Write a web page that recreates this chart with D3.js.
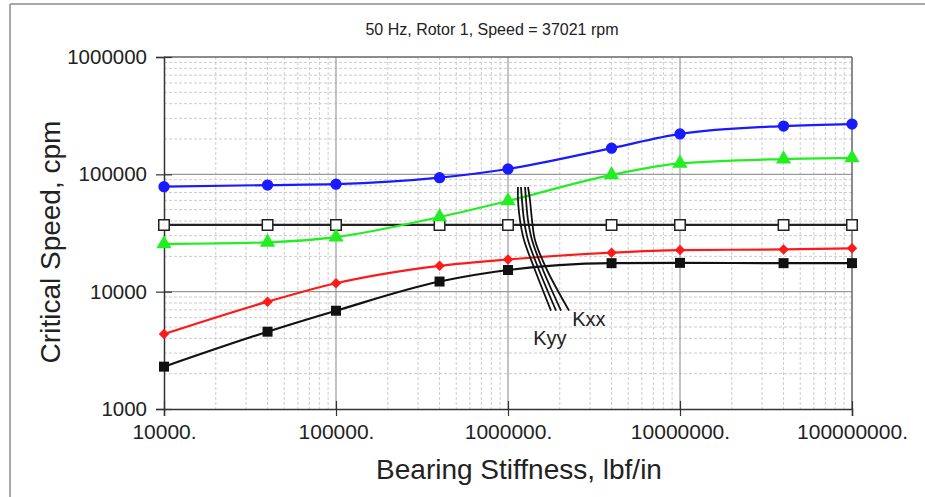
<!DOCTYPE html>
<html>
<head>
<meta charset="utf-8">
<script src="https://cdn.jsdelivr.net/npm/d3@7/dist/d3.min.js"></script>
<style>
  html, body { margin: 0; padding: 0; background: #fff; }
  svg { display: block; font-family: "Liberation Sans", Arial, sans-serif; }
</style>
</head>
<body>
<svg id="chart" width="925" height="497"></svg>
<script>
// ---- Data ----
const title = "50 Hz, Rotor 1, Speed = 37021 rpm";
const xLabel = "Bearing Stiffness, lbf/in";
const yLabel = "Critical Speed, cpm";
const stiffness = [1e4, 4e4, 1e5, 4e5, 1e6, 4e6, 1e7, 4e7, 1e8];
const mode4 = [78500, 81000, 82500, 93600, 111000, 167000, 221000, 258000, 268000]; // blue
const mode3 = [25500, 26300, 29200, 43300, 59300, 99000, 124000, 135000, 138000];  // green
const runSpeed = [37021, 37021, 37021, 37021, 37021, 37021, 37021, 37021, 37021]; // open squares
const mode2 = [4355, 8220, 11800, 16600, 18800, 21500, 22600, 22900, 23400];       // red
const mode1 = [2295, 4560, 6880, 12200, 15300, 17500, 17600, 17500, 17500];        // black
const xTickLabels = ["10000.", "100000.", "1000000.", "10000000.", "100000000."];
const yTickLabels = ["1000", "10000", "100000", "1000000"];
// Kxx / Kyy bearing stiffness loci (stiffness, cpm)
const kCurveY = [78000, 60400, 40800, 27600, 15300, 6900];
const kCurvesX = [
  [1.143e6, 1.143e6, 1.174e6, 1.239e6, 1.435e6, 1.778e6],
  [1.190e6, 1.206e6, 1.239e6, 1.307e6, 1.514e6, 1.902e6],
  [1.256e6, 1.273e6, 1.307e6, 1.379e6, 1.598e6, 2.033e6],
  [1.307e6, 1.342e6, 1.379e6, 1.435e6, 1.686e6, 2.263e6]
];
const kLabels = [
  { text: "Kxx", x: 2.36e6, y: 5100 },
  { text: "Kyy", x: 1.40e6, y: 3500 }
];

// ---- Chart ----
const svg = d3.select("#chart");
const x = d3.scaleLog().domain([1e4, 1e8]).range([164, 852]);
const y = d3.scaleLog().domain([1e3, 1e6]).range([409, 57]);
const isMajor = v => Math.abs(Math.log10(v) - Math.round(Math.log10(v))) < 1e-9;

// outer frame
svg.append("line").attr("x1", 10).attr("x2", 10).attr("y1", 4).attr("y2", 497)
  .attr("stroke", "#a8a8a8").attr("stroke-width", 2);
svg.append("line").attr("x1", 10).attr("x2", 925).attr("y1", 4).attr("y2", 4)
  .attr("stroke", "#a8a8a8").attr("stroke-width", 2);

// grid
const g = svg.append("g");
const xt = x.ticks().filter(v => v > 1e4 && v < 1e8);
const yt = y.ticks().filter(v => v > 1e3 && v < 1e6);
g.selectAll(".xminor").data(xt.filter(v => !isMajor(v))).join("line")
  .attr("x1", d => x(d)).attr("x2", d => x(d)).attr("y1", 57).attr("y2", 409)
  .attr("stroke", "#cccccc").attr("stroke-width", 1).attr("stroke-dasharray", "3,2");
g.selectAll(".yminor").data(yt.filter(v => !isMajor(v))).join("line")
  .attr("x1", 164).attr("x2", 852).attr("y1", d => y(d)).attr("y2", d => y(d))
  .attr("stroke", "#cccccc").attr("stroke-width", 1).attr("stroke-dasharray", "3,2");
g.selectAll(".xmajor").data(xt.filter(isMajor)).join("line")
  .attr("x1", d => x(d)).attr("x2", d => x(d)).attr("y1", 57).attr("y2", 409)
  .attr("stroke", "#9a9a9a").attr("stroke-width", 1.2);
g.selectAll(".ymajor").data(yt.filter(isMajor)).join("line")
  .attr("x1", 164).attr("x2", 852).attr("y1", d => y(d)).attr("y2", d => y(d))
  .attr("stroke", "#9a9a9a").attr("stroke-width", 1.2);

// frame top/right
svg.append("line").attr("x1", 164).attr("x2", 852).attr("y1", 57).attr("y2", 57)
  .attr("stroke", "#666").attr("stroke-width", 1.5);
svg.append("line").attr("x1", 852).attr("x2", 852).attr("y1", 57).attr("y2", 409)
  .attr("stroke", "#666").attr("stroke-width", 1.5);

// axes
const yAxis = d3.axisLeft(y).tickValues([1e3, 1e4, 1e5, 1e6])
  .tickFormat((d, i) => yTickLabels[i]).tickSize(8).tickPadding(9);
const yg = svg.append("g").attr("transform", "translate(164,0)").call(yAxis);
yg.select(".domain").attr("stroke", "#333").attr("stroke-width", 1.5);
yg.selectAll(".tick line").attr("stroke", "#333").attr("stroke-width", 1.2)
  .attr("x2", 8).attr("x1", -8);
yg.selectAll(".tick text").attr("font-size", 20.5).attr("fill", "#222")
  .attr("font-family", "Liberation Sans, Arial, sans-serif");

const xAxis = d3.axisBottom(x).tickValues([1e4, 1e5, 1e6, 1e7, 1e8])
  .tickFormat((d, i) => xTickLabels[i]).tickSize(7).tickPadding(8);
const xg = svg.append("g").attr("transform", "translate(0,409)").call(xAxis);
xg.select(".domain").attr("stroke", "#333").attr("stroke-width", 1.5);
xg.selectAll(".tick line").attr("stroke", "#333").attr("stroke-width", 1.2)
  .attr("y1", -8).attr("y2", 7);
xg.selectAll(".tick text").attr("font-size", 21).attr("fill", "#222")
  .attr("font-family", "Liberation Sans, Arial, sans-serif");

// titles
svg.append("text").attr("x", 492).attr("y", 35).attr("text-anchor", "middle")
  .attr("font-size", 16).attr("fill", "#222").text(title);
svg.append("text").attr("x", 519).attr("y", 479).attr("text-anchor", "middle")
  .attr("font-size", 28).attr("fill", "#222").text(xLabel);
svg.append("text").attr("transform", "translate(60,242) rotate(-90)")
  .attr("text-anchor", "middle").attr("font-size", 28).attr("fill", "#222").text(yLabel);

// series
const series = [
  { vals: runSpeed, color: "#222", marker: "openSquare" },
  { vals: mode1, color: "#111", marker: "square" },
  { vals: mode2, color: "#ff1a1a", marker: "diamond" },
  { vals: mode3, color: "#22ee22", marker: "triangle" },
  { vals: mode4, color: "#1a1aff", marker: "circle" }
];
const line = d3.line().x(d => x(d[0])).y(d => y(d[1])).curve(d3.curveMonotoneX);
const symbols = {
  openSquare: { sym: d3.symbol().type(d3.symbolSquare).size(110), rot: 0 },
  square: { sym: d3.symbol().type(d3.symbolSquare).size(100), rot: 0 },
  diamond: { sym: d3.symbol().type(d3.symbolSquare).size(55), rot: 45 },
  triangle: { sym: d3.symbol().type(d3.symbolTriangle).size(100), rot: 0 },
  circle: { sym: d3.symbol().type(d3.symbolCircle).size(100), rot: 0 }
};
series.forEach(s => {
  const pts = stiffness.map((k, i) => [k, s.vals[i]]);
  const m = symbols[s.marker];
  svg.append("path").datum(pts).attr("d", line).attr("fill", "none")
    .attr("stroke", s.color).attr("stroke-width", 2.2);
  svg.append("g").selectAll("path").data(pts).join("path")
    .attr("transform", d => `translate(${x(d[0])},${y(d[1])}) rotate(${m.rot})`)
    .attr("d", m.sym())
    .attr("fill", s.marker === "openSquare" ? "#fff" : s.color)
    .attr("stroke", s.marker === "openSquare" ? "#222" : "none")
    .attr("stroke-width", 1.5);
});

// K loci
const kLine = d3.line().x(d => x(d[0])).y(d => y(d[1])).curve(d3.curveCatmullRom);
kCurvesX.forEach(xs => {
  const pts = xs.map((v, i) => [v, kCurveY[i]]);
  svg.append("path").datum(pts).attr("d", kLine).attr("fill", "none")
    .attr("stroke", "#111").attr("stroke-width", 1.8);
});
svg.selectAll(".klab").data(kLabels).join("text")
  .attr("x", d => x(d.x)).attr("y", d => y(d.y))
  .attr("font-size", 20).attr("fill", "#222").text(d => d.text);
</script>
</body>
</html>
